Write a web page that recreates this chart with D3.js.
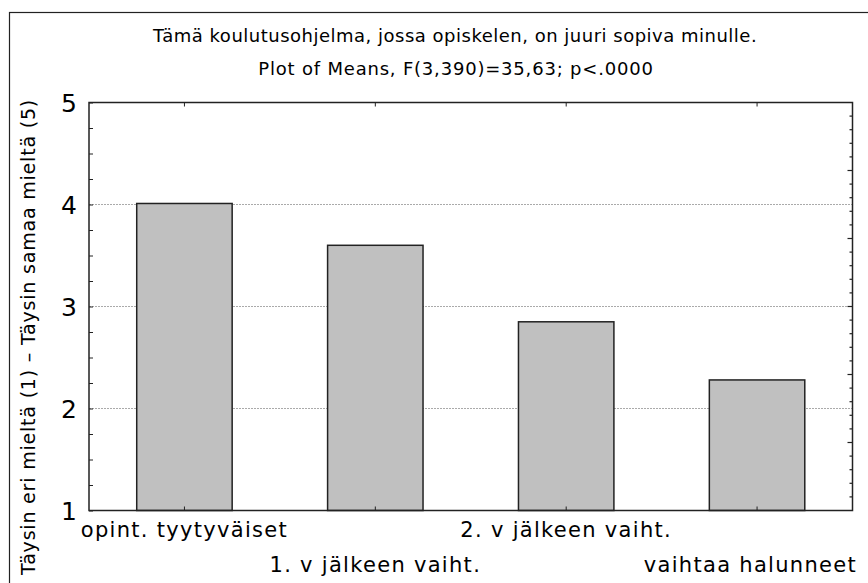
<!DOCTYPE html>
<html>
<head>
<meta charset="utf-8">
<script src="https://cdn.jsdelivr.net/npm/d3@7"></script>
<style>
	body { margin: 0; background: #fff; }
	text { font-family: "DejaVu Sans", Verdana, sans-serif; fill: #000; }
</style>
</head>
<body>
<div id="chart"></div>
<script>
const 	categories = ['opint. tyytyväiset', '1. v jälkeen vaiht.', '2. v jälkeen vaiht.', 'vaihtaa halunneet'],
		means = [4.01, 3.60, 2.85, 2.28],
		yTicks = [1, 2, 3, 4, 5],
		gridValues = [2, 3, 4];

const 	titleText = 'Tämä koulutusohjelma, jossa opiskelen, on juuri sopiva minulle.',
		subtitleText = 'Plot of Means, F(3,390)=35,63; p<.0000',
		yLabel = 'Täysin eri mieltä (1) – Täysin samaa mieltä (5)';

const 	width = 868,
		height = 583,
		margin = {top: 102.5, right: 15.5, bottom: 72.5, left: 89};

const svg = d3.select('#chart').append('svg')
	.attr('width', width)
	.attr('height', height);

// Outer frame
svg.append('rect')
	.attr('x', 9.5).attr('y', 12.5)
	.attr('width', width).attr('height', height)
	.style('fill', 'none')
	.style('stroke', '#222')
	.style('stroke-width', 1.2);

const 	plotLeft = margin.left,
		plotRight = width - margin.right,
		plotTop = margin.top,
		plotBottom = height - margin.bottom;

const x = d3.scaleBand()
	.domain(categories)
	.range([plotLeft, plotRight])
	.paddingInner(0.5)
	.paddingOuter(0.25);

const y = d3.scaleLinear()
	.domain([1, 5])
	.range([plotBottom, plotTop]);

// Dotted gridlines
svg.append('g')
	.selectAll('line')
	.data(gridValues)
	.enter()
		.append('line')
		.attr('x1', plotLeft).attr('x2', plotRight)
		.attr('y1', d => y(d)).attr('y2', d => y(d))
		.style('stroke', '#aaa')
		.style('stroke-width', 1)
		.style('stroke-dasharray', '2,1');

// Bars
svg.append('g')
	.selectAll('rect')
	.data(means)
	.enter()
		.append('rect')
		.attr('x', (d, i) => x(categories[i]))
		.attr('y', d => y(d))
		.attr('width', x.bandwidth())
		.attr('height', d => y(1) - y(d))
		.style('fill', '#c0c0c0')
		.style('stroke', '#222')
		.style('stroke-width', 1.5);

// Left axis: minor ticks every 0.25 pointing inward
const leftAxis = d3.axisRight(y)
	.tickValues(d3.range(1, 5.01, 0.25))
	.tickSize(4)
	.tickFormat('');
svg.append('g')
	.attr('transform', `translate(${plotLeft},0)`)
	.call(leftAxis)
	.call(g => g.select('.domain').remove())
	.selectAll('line').style('stroke', '#222');

// Right axis: separate fine tick scale
const yRight = d3.scaleLinear().domain([0, 30]).range([plotTop, plotBottom]);
svg.append('g')
	.attr('transform', `translate(${plotRight},0)`)
	.selectAll('line')
	.data(d3.range(1, 30))
	.enter()
		.append('line')
		.attr('x1', d => d % 5 === 0 ? -5 : -3).attr('x2', 0)
		.attr('y1', d => yRight(d)).attr('y2', d => yRight(d))
		.style('stroke', '#222')
		.style('stroke-width', 1.2);

// Top and bottom ticks at category centers
const centers = categories.map(c => x(c) + x.bandwidth() / 2);
svg.append('g')
	.selectAll('line.top')
	.data(centers)
	.enter()
		.append('line')
		.attr('x1', d => d).attr('x2', d => d)
		.attr('y1', plotTop).attr('y2', plotTop + 4)
		.style('stroke', '#222');
svg.append('g')
	.selectAll('line.bottom')
	.data(centers)
	.enter()
		.append('line')
		.attr('x1', d => d).attr('x2', d => d)
		.attr('y1', plotBottom).attr('y2', plotBottom - 4)
		.style('stroke', '#222');

// Plot frame
svg.append('rect')
	.attr('x', plotLeft).attr('y', plotTop)
	.attr('width', plotRight - plotLeft)
	.attr('height', plotBottom - plotTop)
	.style('fill', 'none')
	.style('stroke', '#222')
	.style('stroke-width', 1.5);

// Y tick labels
svg.append('g')
	.selectAll('text')
	.data(yTicks)
	.enter()
		.append('text')
		.attr('x', 77)
		.attr('y', d => y(d) + 9)
		.attr('text-anchor', 'end')
		.style('font-size', '25px')
		.text(d => d);

// X labels, staggered
const xLabels = svg.append('g')
	.selectAll('text')
	.data(categories)
	.enter()
		.append('text')
		.attr('x', d => x(d) + x.bandwidth() / 2)
		.attr('y', (d, i) => i % 2 === 0 ? 537 : 572)
		.attr('text-anchor', 'middle')
		.style('font-size', '21px')
		.style('letter-spacing', '1.3px')
		.text(d => d);

// keep the last label inside the picture
xLabels.each(function(){
	const box = this.getBBox();
	if (box.x + box.width > 857){
		d3.select(this).attr('x', +d3.select(this).attr('x') - (box.x + box.width - 857));
	}
});

// Titles
svg.append('text')
	.attr('x', 455).attr('y', 42)
	.attr('text-anchor', 'middle')
	.style('font-size', '18px')
	.style('letter-spacing', '0.5px')
	.text(titleText);
svg.append('text')
	.attr('x', 456).attr('y', 75)
	.attr('text-anchor', 'middle')
	.style('font-size', '18px')
	.style('letter-spacing', '0.8px')
	.text(subtitleText);

// Y axis title
svg.append('text')
	.attr('transform', 'translate(35,337) rotate(-90)')
	.attr('text-anchor', 'middle')
	.style('font-size', '19px')
	.style('letter-spacing', '0.8px')
	.text(yLabel);
</script>
</body>
</html>
